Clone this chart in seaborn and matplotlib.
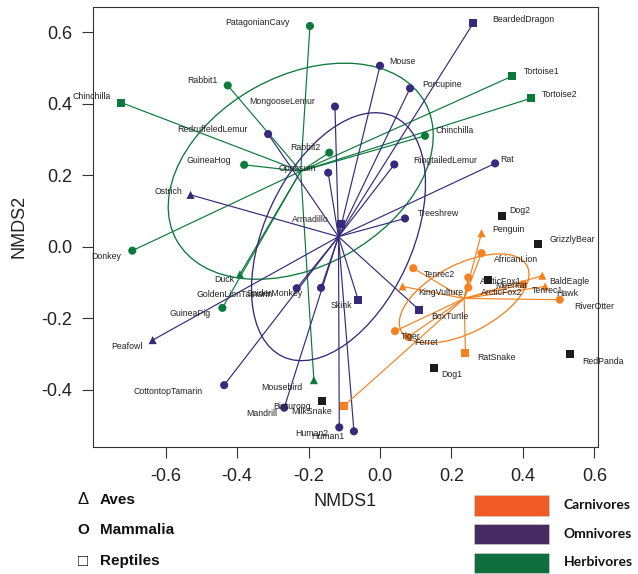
import numpy as np
import pandas as pd
import matplotlib
matplotlib.use("Agg")
import matplotlib.pyplot as plt
from matplotlib.patches import Ellipse, Rectangle
import seaborn as sns

# species scores on the two NMDS axes
species = [
    "PatagonianCavy", "Rabbit1", "Chinchilla", "Rabbit2", "GuineaHog", "Tortoise1",
    "Tortoise2", "Chinchilla", "Donkey", "Duck", "GuineaPig", "Mousebird",
    "MongooseLemur", "RedruffeledLemur", "Opossum", "Mouse", "Porcupine", "BeardedDragon",
    "RingtailedLemur", "Rat", "Treeshrew", "Armadillo", "Ostrich", "Peafowl",
    "GoldenLionTamarin", "SpiderMonkey", "Skink", "BoxTurtle", "CottontopTamarin", "Mandrill",
    "Human2", "Human1",
    "Penguin", "AfricanLion", "Tenrec2", "ArcticFox1", "ArcticFox2", "KingVulture",
    "BaldEagle", "Hawk", "Tenrec1", "RiverOtter", "Tiger", "Ferret", "RatSnake", "MilkSnake",
    "Dog2", "GrizzlyBear", "Meerkat", "RedPanda", "Dog1", "Binturong",
]
nmds1 = [
    -0.196, -0.426, -0.724, -0.142, -0.380, 0.370,
    0.422, 0.126, -0.693, -0.392, -0.441, -0.185,
    -0.126, -0.313, -0.145, 0.000, 0.084, 0.261,
    0.040, 0.322, 0.070, -0.110, -0.530, -0.636,
    -0.233, -0.165, -0.061, 0.110, -0.436, -0.268,
    -0.114, -0.073,
    0.284, 0.284, 0.093, 0.247, 0.247, 0.063,
    0.454, 0.462, 0.400, 0.503, 0.042, 0.079, 0.239, -0.101,
    0.342, 0.441, 0.303, 0.531, 0.152, -0.163,
]
nmds2 = [
    0.617, 0.451, 0.403, 0.263, 0.229, 0.477,
    0.415, 0.310, -0.011, -0.077, -0.171, -0.373,
    0.392, 0.315, 0.207, 0.506, 0.443, 0.625,
    0.230, 0.233, 0.079, 0.063, 0.145, -0.261,
    -0.116, -0.115, -0.149, -0.177, -0.387, -0.450,
    -0.505, -0.516,
    0.038, -0.018, -0.060, -0.086, -0.114, -0.111,
    -0.081, -0.111, -0.105, -0.148, -0.236, -0.252, -0.296, -0.445,
    0.087, 0.007, -0.093, -0.301, -0.340, -0.432,
]
diet = (["Herbivores"] * 12 + ["Omnivores"] * 20 + ["Carnivores"] * 14 + ["Other"] * 6)
shape = [
    "Mammalia", "Mammalia", "Reptiles", "Mammalia", "Mammalia", "Reptiles",
    "Reptiles", "Mammalia", "Mammalia", "Aves", "Mammalia", "Aves",
    "Mammalia", "Mammalia", "Mammalia", "Mammalia", "Mammalia", "Reptiles",
    "Mammalia", "Mammalia", "Mammalia", "Reptiles", "Aves", "Aves",
    "Mammalia", "Mammalia", "Reptiles", "Reptiles", "Mammalia", "Mammalia",
    "Mammalia", "Mammalia",
    "Aves", "Mammalia", "Mammalia", "Mammalia", "Mammalia", "Aves",
    "Aves", "Aves", "Mammalia", "Mammalia", "Mammalia", "Mammalia", "Reptiles", "Reptiles",
    "Reptiles", "Reptiles", "Reptiles", "Reptiles", "Reptiles", "Reptiles",
]

# where each name sits relative to its point (pixels right, pixels down)
label_nudge = [
    (-53, -4), (-25, -5), (-30, -6), (-24, -5), (-35, -4), (29, -5),
    (29, -4), (30, -5), (-26, 6), (-16, 5), (-32, 6), (-32, 7),
    (-53, -5), (-56, -5), (-31, -4), (22, -4), (32, -4), (50, -4),
    (51, -4), (12, -4), (33, -5), (-30, -5), (-22, -3), (-26, 6),
    (-62, 6), (-46, 6), (-17, 5), (31, 6), (-56, 6), (-22, 6),
    (-27, 6), (-26, 5),
    (27, -4), (35, 6), (26, 6), (33, 4), (33, 5), (38, 6),
    (27, 6), (22, 7), (25, 6), (34, 7), (16, 5), (18, 6), (31, 5), (-32, 6),
    (18, -5), (35, -5), (23, 6), (33, 7), (17, 6), (-30, 5),
]

colors = {"Carnivores": "#f5821f", "Omnivores": "#372a7c",
          "Herbivores": "#0b7a3c", "Other": "#1c1c1c"}
legend_colors = {"Carnivores": "#f15a24", "Omnivores": "#452a63", "Herbivores": "#0e6e3d"}
markers = {"Aves": "^", "Mammalia": "o", "Reptiles": "s"}

df = pd.DataFrame({"species": species, "NMDS1": nmds1, "NMDS2": nmds2,
                   "diet": diet, "shape": shape})

sns.set_style("ticks")
plt.rcParams["font.family"] = ["Liberation Sans", "DejaVu Sans"]

fig = plt.figure(figsize=(6.38, 5.74), dpi=100)
ax = fig.add_axes([0.1463, 0.2218, 0.7905, 0.7665])

# spider lines and one-sd ellipses for each diet group
for group in ["Herbivores", "Omnivores", "Carnivores"]:
    g = df[df["diet"] == group]
    cx, cy = g["NMDS1"].mean(), g["NMDS2"].mean()
    for px, py in zip(g["NMDS1"], g["NMDS2"]):
        ax.plot([cx, px], [cy, py], color=colors[group], lw=0.85, zorder=1)
    cov = np.cov(g["NMDS1"], g["NMDS2"])
    vals, vecs = np.linalg.eigh(cov)
    order = vals.argsort()[::-1]
    vals, vecs = vals[order], vecs[:, order]
    angle = np.degrees(np.arctan2(vecs[1, 0], vecs[0, 0]))
    ax.add_patch(Ellipse((cx, cy), 2 * np.sqrt(vals[0]), 2 * np.sqrt(vals[1]),
                         angle=angle, fill=False, edgecolor=colors[group],
                         lw=0.95, zorder=1))

sns.scatterplot(data=df, x="NMDS1", y="NMDS2", hue="diet", style="shape",
                palette=colors, markers=markers, s=34, linewidth=0,
                legend=False, ax=ax, zorder=3)

for name, px, py, (dx, dy) in zip(species, nmds1, nmds2, label_nudge):
    ax.annotate(name, (px, py), xytext=(dx * 0.72, -dy * 0.72),
                textcoords="offset points", ha="center", va="center",
                fontsize=6.3, color="#222222", zorder=4, annotation_clip=False)

ax.set_xlim(-0.802, 0.609)
ax.set_ylim(-0.559, 0.671)
ax.set_xticks([-0.6, -0.4, -0.2, 0.0, 0.2, 0.4, 0.6])
ax.set_yticks([-0.4, -0.2, 0.0, 0.2, 0.4, 0.6])
ax.set_xticklabels(["-0.6", "-0.4", "-0.2", "0.0", "0.2", "0.4", "0.6"])
ax.set_yticklabels(["-0.4", "-0.2", "0.0", "0.2", "0.4", "0.6"])
ax.tick_params(axis="both", length=8, width=0.8, color="#333333",
               labelsize=13, pad=7, labelcolor="#222222")
for sp in ax.spines.values():
    sp.set_color("#333333")
    sp.set_linewidth(0.8)
ax.set_xlabel("NMDS1", fontsize=13, color="#222222", labelpad=6)
ax.set_ylabel("NMDS2", fontsize=13, color="#222222", labelpad=10)

# shape key, bottom left
for sym, txt, yy in [("\u0394", "Aves", 500), ("O", "Mammalia", 530), ("\u25a1", "Reptiles", 561)]:
    fig.text(83 / 638, 1 - yy / 574, sym, fontsize=12 if sym != "O" else 11,
             fontweight="normal" if sym != "O" else "bold",
             ha="center", va="center", color="#111111")
    fig.text(100 / 638, 1 - yy / 574, txt, fontsize=11, fontweight="bold",
             ha="left", va="center", color="#111111")

# diet key, bottom right
for (group, col), top in zip(legend_colors.items(), [495, 523.5, 552.5]):
    fig.patches.append(Rectangle((474 / 638, 1 - (top + 20.5) / 574), 75 / 638, 20.5 / 574,
                                 transform=fig.transFigure, facecolor=col,
                                 edgecolor="#cccccc", lw=0.5))
    fig.text(564 / 638, 1 - (top + 10) / 574, group, fontsize=10, fontweight="bold",
             family=["Lato", "DejaVu Sans"], ha="left", va="center", color="#111111")

fig.savefig("out.png", dpi=100)
